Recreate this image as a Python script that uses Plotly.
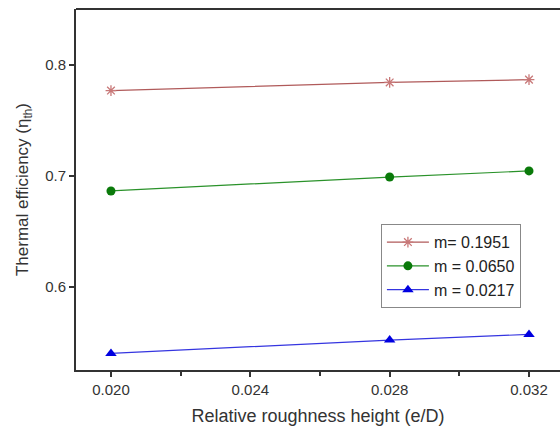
import plotly.graph_objects as go

x_vals = [0.020, 0.028, 0.032]
eta_m1951 = [0.7767, 0.7840, 0.7865]
eta_m0650 = [0.6865, 0.6990, 0.7045]
eta_m0217 = [0.5405, 0.5525, 0.5576]
series_names = ["m= 0.1951", "m = 0.0650", "m = 0.0217"]
x_ticks = [0.020, 0.024, 0.028, 0.032]
x_tick_text = ["0.020", "0.024", "0.028", "0.032"]
y_ticks = [0.6, 0.7, 0.8]
y_tick_text = ["0.6", "0.7", "0.8"]

fig = go.Figure()
fig.add_trace(go.Scatter(x=x_vals, y=eta_m1951, name=series_names[0], mode="lines+markers",
                         line=dict(color="#b05a5a", width=1.2),
                         marker=dict(symbol="asterisk-open", size=9, color="#c87878",
                                     line=dict(color="#c87878", width=1.3))))
fig.add_trace(go.Scatter(x=x_vals, y=eta_m0650, name=series_names[1], mode="lines+markers",
                         line=dict(color="#2a922a", width=1.2),
                         marker=dict(symbol="circle", size=9, color="#0a7a0a")))
fig.add_trace(go.Scatter(x=x_vals, y=eta_m0217, name=series_names[2], mode="lines+markers",
                         line=dict(color="#3535e0", width=1.2),
                         marker=dict(symbol="triangle-up", size=10, color="#0000e0")))

fig.update_layout(
    width=560, height=428,
    margin=dict(l=76, r=0, t=9, b=58),
    paper_bgcolor="white", plot_bgcolor="white",
    font=dict(family="Liberation Sans, Arial, sans-serif", color="#333333", size=15),
    showlegend=True,
    legend=dict(x=0.63, y=0.404, xanchor="left", yanchor="top",
                bordercolor="#888888", borderwidth=1, bgcolor="white",
                font=dict(size=16, color="#222222"), tracegroupgap=0,
                itemwidth=42),
    xaxis=dict(range=[0.018996, 0.03289], tickvals=x_ticks, ticktext=x_tick_text,
               showgrid=False, zeroline=False, showline=True, linecolor="#333333", linewidth=2,
               mirror=False, ticks="outside", ticklen=5, tickwidth=1.5, tickcolor="#333333",
               minor=dict(tickvals=[0.022, 0.026, 0.030], ticks="outside", ticklen=4,
                          tickwidth=1.5, tickcolor="#333333"),
               tickfont=dict(size=15, color="#333333"),
               title=dict(text="Relative roughness height (e/D)", font=dict(size=18, color="#333333"),
                          standoff=12)),
    yaxis=dict(range=[0.5256, 0.850], tickvals=y_ticks, ticktext=y_tick_text,
               showgrid=False, zeroline=False, showline=True, linecolor="#333333", linewidth=2,
               ticks="outside", ticklen=5, tickwidth=1.5, tickcolor="#333333",
               tickfont=dict(size=15, color="#333333"),
               title=dict(text="Thermal efficiency (η<sub>th</sub>)", font=dict(size=17, color="#333333"),
                          standoff=12)),
)
fig.add_shape(type="line", xref="paper", yref="paper", x0=0, x1=1, y0=1, y1=1,
              line=dict(color="#333333", width=2))

fig.write_html("out.html")
